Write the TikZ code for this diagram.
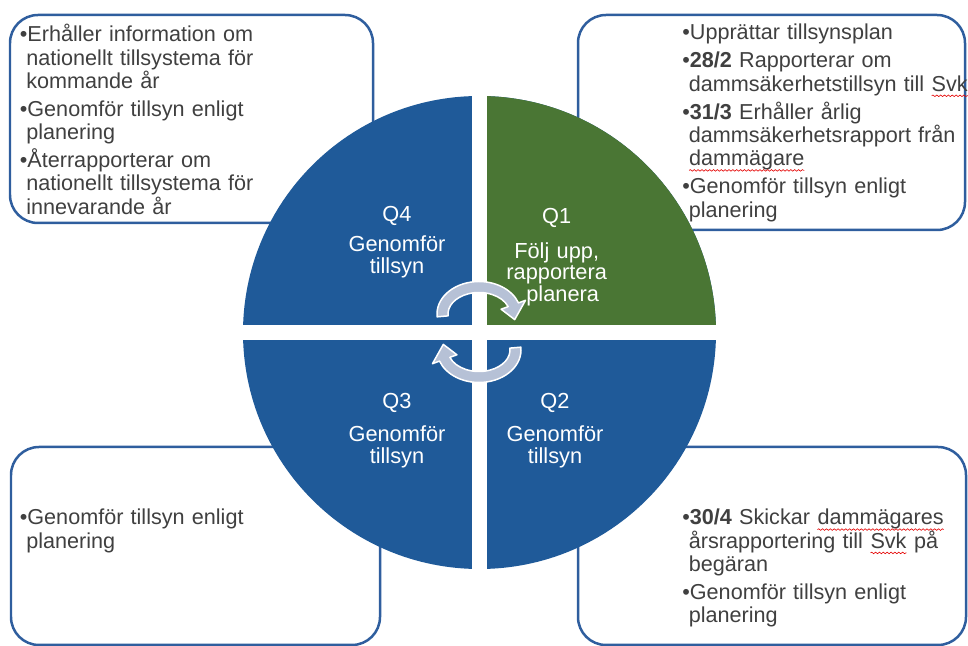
\documentclass[tikz,border=0pt]{standalone}
\usepackage{fontspec}
\setmainfont{Liberation Sans}
\usepackage{xcolor}
\usetikzlibrary{calc,decorations.pathmorphing}

\definecolor{qblue}{HTML}{1F5A99}
\definecolor{qgreen}{HTML}{4A7634}
\definecolor{boxline}{HTML}{2F5E9E}
\definecolor{txtgray}{HTML}{404040}
\definecolor{turnfill}{HTML}{B6C1D6}

\newcommand\boxfont{\fontsize{12.3}{13.3}\selectfont\setlength{\parskip}{0.09cm}}
\newcommand\quadfont{\fontsize{12.4}{12.35}\selectfont}
\newcommand\bitem{\hangindent=0.3em\hangafter=1\textbullet}
% red spell-check wave under a word
\newcommand\spellmark[1]{\tikz[baseline=(w.base)]{%
  \node[inner sep=0pt,outer sep=0pt,text width={},anchor=base] (w) {#1};
  \draw[red!90!black,line width=0.35pt,decorate,decoration={snake,amplitude=0.45pt,segment length=2.2pt}]
    ([yshift=-2.6pt]w.base west) -- ([yshift=-2.6pt]w.base east);}}

\begin{document}
\begin{tikzpicture}[x=0.02cm,y=0.02cm,
  infobox/.style={draw=boxline,line width=0.05cm,fill=white,rounded corners=0.56cm},
  infotext/.style={anchor=base west,inner sep=0pt,text width=7cm,align=left,font=\boxfont,text=txtgray},
  qlabel/.style={anchor=base,inner sep=0pt,text width=3cm,align=center,font=\quadfont,text=white},
  turn/.style={fill=turnfill,draw=white,line width=0.03cm,line join=round}]
  \clip (0,0) rectangle (968,646);
  % boxes behind the wheel
  \draw[infobox] (10,423) rectangle (373,631);
  \draw[infobox] (578,416) rectangle (965,631);
  \draw[infobox] (11,1) rectangle (380,199);
  \draw[infobox] (578,1) rectangle (966,199);
  % wheel
  \coordinate (c) at (479.5,313.5);
  \fill[qblue] (c) circle[radius=236.5];
  \fill[qgreen] (c) -- ++(236.5,0) arc[start angle=0,end angle=90,radius=236.5] -- cycle;
  \draw[white,line width=0.31cm] ($(c)+(0,-240)$) -- ($(c)+(0,240)$);
  \draw[white,line width=0.3cm] ($(c)+(-240,0)$) -- ($(c)+(240,0)$);
  % turning arrows (elliptic bands, clockwise)
  \coordinate (cu) at (479,332);
  \coordinate (cl) at (479,296);
  \foreach \ctr/\a/\b/\t in {cu/185/20/-12, cl/5/-160/-192}{
    \draw[turn] ($(\ctr)+({42*cos(\a)},{32.5*sin(\a)})$)
      arc[start angle=\a,end angle=\b,x radius=42,y radius=32.5]
      -- ($(\ctr)+({49.5*cos(\b)},{40*sin(\b)})$)
      -- ($(\ctr)+({36.5*cos(\t)},{27*sin(\t)})$)
      -- ($(\ctr)+({23.5*cos(\b)},{14*sin(\b)})$)
      -- ($(\ctr)+({31*cos(\b)},{21.5*sin(\b)})$)
      arc[start angle=\b,end angle=\a,x radius=31,y radius=21.5] -- cycle;
  }
  % quadrant labels
  \node[qlabel] (q4) at (397,424) {Q4};
  \node[qlabel] (q4txt) at (397,394.3) {Genomför\\tillsyn};
  \node[qlabel] (q1) at (556.7,422.7) {Q1};
  \node[qlabel] (q1txt) at (556.7,387.7) {Följ upp,\\rapportera\\\hspace*{0.24cm}planera};
  \node[qlabel] (q3) at (397,237.7) {Q3};
  \node[qlabel] (q3txt) at (397,204.3) {Genomför\\tillsyn};
  \node[qlabel] (q2) at (555,237.7) {Q2};
  \node[qlabel] (q2txt) at (555,204.3) {Genomför\\tillsyn};
  % box texts
  \node[infotext] (q4box) at (19.5,604.3) {%
    \bitem Erhåller information om\newline nationellt tillsystema för\newline kommande år\par
    \bitem Genomför tillsyn enligt\newline planering\par
    \bitem Återrapporterar om\newline nationellt tillsystema för\newline innevarande år\par};
  \node[infotext] (q1box) at (682,606) {%
    \bitem Upprättar tillsynsplan\par
    \bitem\textbf{28/2} Rapporterar om\newline dammsäkerhetstillsyn till \spellmark{Svk}\par
    \bitem\textbf{31/3} Erhåller årlig\newline dammsäkerhetsrapport från\newline \spellmark{dammägare}\par
    \bitem Genomför tillsyn enligt\newline planering\par};
  \node[infotext] (q3box) at (19.5,121) {%
    \bitem Genomför tillsyn enligt\newline planering\par};
  \node[infotext] (q2box) at (682,121) {%
    \bitem\textbf{30/4} Skickar \spellmark{dammägares}\newline årsrapportering till \spellmark{Svk} på\newline begäran\par
    \bitem Genomför tillsyn enligt\newline planering\par};
\end{tikzpicture}
\end{document}
